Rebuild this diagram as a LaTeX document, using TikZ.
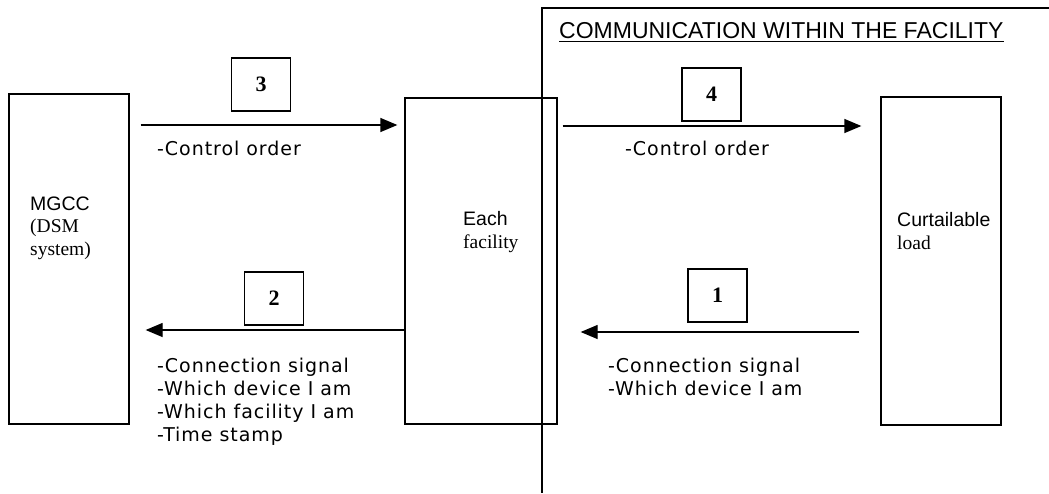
\documentclass[tikz,border=0pt]{standalone}
\usepackage{fontspec}
\setmainfont{Liberation Serif}
\newfontfamily\arialf{Liberation Sans}
\newfontfamily\verdf[LetterSpace=5]{DejaVu Sans}
\usetikzlibrary{arrows.meta}
\tikzset{
  bigbox/.style={draw, line width=1.3pt, inner sep=0pt},
  numbox/.style={draw, line width=1.3pt, inner sep=0pt, minimum width=59pt, minimum height=53pt,
    font=\fontsize{22}{24}\selectfont\bfseries},
  lbl/.style={inner sep=0pt, anchor=base west, align=left},
  msg/.style={inner sep=0pt, anchor=base west, align=left, font=\fontsize{19}{23}\selectfont\verdf},
  arr/.style={line width=1.3pt, -{Triangle[length=17pt,width=14pt]}},
}
\begin{document}
\begin{tikzpicture}[x=1pt,y=-1pt]
\useasboundingbox (0,0) rectangle (1049,493);
% frame / divider
\coordinate (tend) at (1049,8);
\coordinate (dtop) at (542,8);
\coordinate (dbot) at (542,493);
\draw[line width=1.3pt] (tend) -- (dtop) -- (dbot);
\node[lbl, font=\fontsize{23}{26}\selectfont\arialf] (title) at (559,38) {COMMUNICATION WITHIN THE FACILITY};
\draw[line width=1.3pt] ([yshift=-3.5pt]title.base west) -- ([yshift=-3.5pt]title.base east);
% main boxes
\node[bigbox, minimum width=120pt, minimum height=330pt] (mgcc) at (69,259) {};
\node[bigbox, minimum width=152pt, minimum height=326pt] (fac) at (481,261) {};
\node[bigbox, minimum width=120pt, minimum height=328pt] (load) at (941,261) {};
% box labels (base = last line)
\node[lbl, font=\fontsize{19.5}{22.5}\selectfont] (mgcctxt) at (30,255) {{\arialf MGCC}\\(DSM\\system)};
\node[lbl, font=\fontsize{19.5}{22.5}\selectfont] (factxt) at (463,248) {{\arialf Each}\\facility};
\node[lbl, font=\fontsize{19.5}{22.5}\selectfont] (loadtxt) at (897,249) {{\arialf Curtailable}\\load};
% number boxes
\node[numbox] (n3) at (261,84.5) {3};
\node[numbox] (n4) at (711.5,94.5) {4};
\node[numbox] (n2) at (274,298.5) {2};
\node[numbox] (n1) at (717.5,295.5) {1};
% arrows
\draw[arr] ([xshift=11pt]mgcc.east |- 0,125) -- ([xshift=-7pt]fac.west |- 0,125);
\draw[arr] ([xshift=5pt]fac.east |- 0,126) -- ([xshift=-19pt]load.west |- 0,126);
\draw[arr] (fac.west |- 0,330) -- ([xshift=16pt]mgcc.east |- 0,330);
\draw[arr] ([xshift=-21pt]load.west |- 0,332) -- ([xshift=23pt]fac.east |- 0,332);
% messages (base = last line)
\node[msg] (m3) at (157,155) {-Control order};
\node[msg] (m4) at (625,155) {-Control order};
\node[msg] (m2) at (157,441) {-Connection signal\\-Which device I am\\-Which facility I am\\-Time stamp};
\node[msg] (m1) at (608,395) {-Connection signal\\-Which device I am};
\end{tikzpicture}
\end{document}
